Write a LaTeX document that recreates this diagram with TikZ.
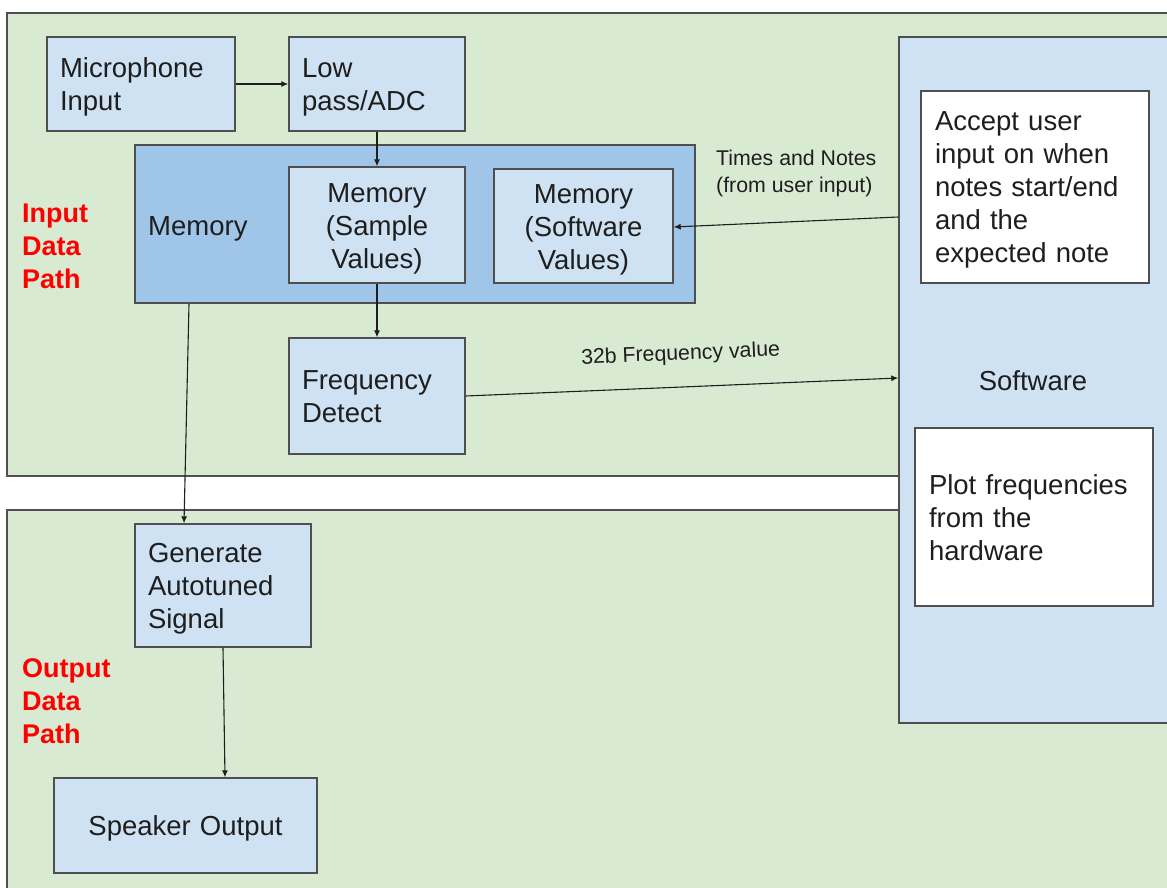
\documentclass[tikz,border=0pt]{standalone}
\usepackage{fontspec}
\setmainfont{Liberation Sans}
\usetikzlibrary{arrows.meta,calc}
\definecolor{zonegreen}{HTML}{D9EAD3}
\definecolor{boxblue}{HTML}{CFE2F3}
\definecolor{memblue}{HTML}{9FC5E8}
\definecolor{edgegray}{HTML}{4F4F4F}
\definecolor{ink}{HTML}{1E1E1E}
\definecolor{pathred}{HTML}{FF0000}
\begin{document}
\begin{tikzpicture}[x=1pt,y=-1pt,
  every node/.style={font=\fontsize{27.5}{33}\selectfont, text=ink},
  zone/.style={fill=zonegreen, draw=edgegray, line width=1.6pt},
  % struts on the first and last line keep the text block evenly centred
  struts/.style={execute at begin node={\rule{0pt}{26.5pt}},
                 execute at end node={\rule[-6.5pt]{0pt}{6.5pt}}},
  blk/.style={rectangle, draw=edgegray, line width=1.4pt, fill=boxblue,
              inner xsep=13pt, inner ysep=0pt},
  lblk/.style={blk, struts, align=left, text width=#1},
  cblk/.style={blk, struts, align=center, text width=#1},
  note/.style={rectangle, draw=edgegray, line width=1.4pt, fill=white,
               inner xsep=14pt, inner ysep=0pt, align=left, text width=#1,
               struts},
  arr/.style={draw=ink, line width=1.1pt, -{Latex[length=7pt,width=6pt]}},
  small/.style={font=\fontsize{21.3}{27}\selectfont, inner sep=0pt, align=left},
  pathlabel/.style={font=\bfseries\fontsize{27}{33}\selectfont, text=pathred,
                    inner sep=0pt, align=left, anchor=west}
]
\useasboundingbox (0,0) rectangle (1167,888);
\clip (0,0) rectangle (1167,888);
\fill[white] (0,0) rectangle (1167,888);

% the two data-path zones
\draw[zone] (7,13) rectangle (1190,476);
\draw[zone] (7,510) rectangle (1190,900);

% software column
\node[rectangle, draw=edgegray, line width=1.4pt, fill=boxblue,
      minimum width=291pt, minimum height=686pt, inner sep=0pt]
      (sw) at (1044.5,380) {};
\node (swlabel) at (1033,381) {Software};
\node[note=200pt, minimum height=192pt] (acc) at (1035,187)
  {Accept user\\input on when\\notes start/end\\and the\\expected note};
\node[note=210pt, minimum height=178pt] (plot) at (1034,517)
  {Plot frequencies\\from the\\hardware};

% input data path
\node[pathlabel] (inlabel) at (22,246) {Input\\Data\\Path};
\node[lblk=162pt, minimum height=94pt] (mic) at (141,84) {Microphone\\Input};
\node[lblk=150pt, minimum height=94pt] (lpf) at (377,84) {Low\\pass/ADC};
\node[blk, fill=memblue, minimum width=560pt, minimum height=158pt,
      inner sep=0pt] (mem) at (415,224) {};
\node[anchor=west, inner sep=0pt] (memlabel) at (148,229) {Memory};
\node[cblk=150pt, minimum height=116pt] (memS) at (377,225)
  {Memory\\(Sample\\Values)};
\node[cblk=153pt, minimum height=114pt] (memW) at (583.5,226)
  {Memory\\(Software\\Values)};
\node[lblk=150pt, minimum height=116pt] (freq) at (377,396)
  {Frequency\\Detect};

% output data path
\node[pathlabel] (outlabel) at (22,701) {Output\\Data\\Path};
\node[lblk=150pt, minimum height=123pt] (gen) at (223,585.5)
  {Generate\\Autotuned\\Signal};
\node[cblk=237pt, minimum height=95pt] (spk) at (185.5,825.5)
  {Speaker Output};

% connectors
\draw[arr] (mic.east) -- (lpf.west);
\draw[arr] (lpf.south) -- (memS.north);
\draw[arr] (memS.south) -- (freq.north);
\draw[arr] (mem.south -| 189,0) -- (gen.north -| 184,0);
\draw[arr] (gen.south) -- (spk.north -| 225,0);
\draw[arr] (freq.east) -- (sw.west |- 0,378)
  node[midway, sloped, above=22pt, small] (freqlabel) {32b Frequency value};
\draw[arr] (sw.west |- 0,217) -- (memW.east |- 0,227);
\node[small, anchor=west] (timelabel) at (716,173)
  {Times and Notes\\(from user input)};
\end{tikzpicture}
\end{document}
